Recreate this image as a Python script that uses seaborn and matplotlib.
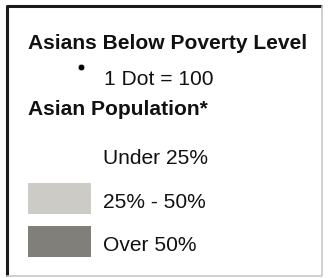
import numpy as np
import matplotlib
matplotlib.use("Agg")
import matplotlib.pyplot as plt
import seaborn as sns

title = "Asians Below Poverty Level"
dot_label = "1 Dot = 100"
dot_value = 100
pop_title = "Asian Population*"
classes = ["Under 25%", "25% - 50%", "Over 50%"]
class_colors = ["#ffffff", "#cdcbc6", "#807f7a"]

sns.set_theme(style="white")
plt.rcParams['font.family'] = ['Liberation Sans', 'DejaVu Sans']

fig = plt.figure(figsize=(3.28, 2.78), dpi=100)
ax = fig.add_axes([0, 0, 1, 1])
ax.set_xlim(0, 328)
ax.set_ylim(278, 0)
ax.axis("off")

# frame: dark top/left, light right/bottom
ax.plot([7, 7, 322], [276, 6, 6], color="#1a1a1a", lw=2.2, solid_capstyle="butt")
ax.plot([7, 322, 322], [276, 276, 6], color="#c8c8c8", lw=1.2)

fs = 15.1
ax.text(28, 49, title, fontsize=fs, fontweight="bold", va="baseline", color="#111111")
sns.scatterplot(x=[81], y=[67], s=22, color="black", ax=ax, legend=False)
ax.text(104, 85, dot_label, fontsize=fs, va="baseline", color="#111111")
ax.text(28, 115, pop_title, fontsize=fs, fontweight="bold", va="baseline", color="#111111")

baselines = [164, 208, 251]
for i, (lab, col) in enumerate(zip(classes, class_colors)):
    top = baselines[i] - 25
    if col != "#ffffff":
        ax.bar(28, 31, width=63, bottom=top, align="edge", color=col, edgecolor=col, lw=0)
    ax.text(103, baselines[i], lab, fontsize=fs, va="baseline", color="#111111")

fig.savefig("out.png", dpi=100)
